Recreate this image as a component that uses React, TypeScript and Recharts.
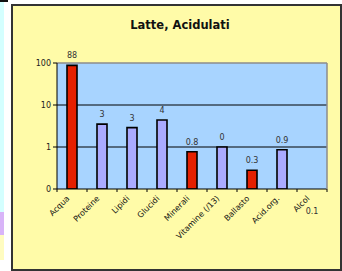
import React from "react";
import {
    BarChart,
    Bar,
    XAxis,
    YAxis,
    CartesianGrid,
    ReferenceLine,
    Cell,
    LabelList,
} from "recharts";

const categories = [
    "Acqua",
    "Proteine",
    "Lipidi",
    "Glucidi",
    "Minerali",
    "Vitamine (/13)",
    "Ballasto",
    "Acid.org.",
    "Alcol",
];
const amounts = [88, 3.5, 2.9, 4.4, 0.77, 1.0, 0.28, 0.86, 0.1];
const valueLabels = ["88", "3", "3", "4", "0.8", "0", "0.3", "0.9", "0.1"];
const highlighted = [true, false, false, false, true, false, true, false, false];
const yTicks = [0.1, 1, 10, 100];
const Y_MIN = 0.1;

const data = categories.map((name, i) => ({
    name,
    amount: amounts[i],
    label: valueLabels[i],
}));

const FONT = "'DejaVu Sans', Verdana, sans-serif";
const HALF_BAND = 15;

function CategoryTick(props: any) {
    const { x, y, payload, index } = props;
    const tx = x - 2;
    const ty = y + 10;
    // bars at the bottom of the log axis have no height, so their label goes under the axis
    const flat = amounts[index] <= Y_MIN;
    return (
        <g>
            <line x1={x - HALF_BAND} y1={y} x2={x - HALF_BAND} y2={y + 3} stroke="#000" />
            {index === categories.length - 1 && (
                <line x1={x + HALF_BAND} y1={y} x2={x + HALF_BAND} y2={y + 3} stroke="#000" />
            )}
            <text
                x={tx}
                y={ty}
                transform={`rotate(-45, ${tx}, ${ty})`}
                textAnchor="end"
                fontSize={8}
                fontFamily={FONT}
                fill="#111"
            >
                {payload.value}
            </text>
            {flat && (
                <text x={x} y={y + 25} textAnchor="middle" fontSize={8} fontFamily={FONT} fill="#333">
                    {valueLabels[index]}
                </text>
            )}
        </g>
    );
}

function ValueLabel(props: any) {
    const { x, y, width, height, value } = props;
    if (!height || height <= 0.5) return null;
    return (
        <text x={x + width / 2} y={y - 7} textAnchor="middle" fontSize={8} fontFamily={FONT} fill="#333">
            {value}
        </text>
    );
}

export default function App() {
    return (
        <div style={{ position: "absolute", left: 0, top: 0, width: 342, height: 271, background: "#fff", fontFamily: FONT }}>
            <div style={{ position: "absolute", left: 0, top: 0, width: 8, height: 2, background: "#111" }} />
            <div style={{ position: "absolute", left: 0, top: 2, width: 4, height: 210, background: "#D4FFFF" }} />
            <div style={{ position: "absolute", left: 0, top: 212, width: 4, height: 23, background: "#D8B4F8" }} />
            <div style={{ position: "absolute", left: 0, top: 235, width: 4, height: 25, background: "#FFFCC0" }} />
            <div
                style={{
                    position: "absolute",
                    left: 11,
                    top: 4,
                    width: 327,
                    height: 263,
                    background: "#FFFBA8",
                    border: "2px solid #333",
                }}
            />
            <div
                style={{
                    position: "absolute",
                    left: 80,
                    top: 18,
                    width: 200,
                    textAlign: "center",
                    fontSize: 11.5,
                    fontWeight: "bold",
                    color: "#111",
                    lineHeight: "15px",
                }}
            >
                Latte, Acidulati
            </div>
            <div style={{ position: "absolute", left: 0, top: 0 }}>
                <BarChart
                    width={342}
                    height={271}
                    data={data}
                    margin={{ top: 63, right: 13, left: 17, bottom: 22 }}
                    barSize={10}
                >
                    <CartesianGrid
                        vertical={false}
                        horizontalValues={[1, 10]}
                        stroke="#000"
                        fill="#A8D4FF"
                        fillOpacity={1}
                    />
                    <ReferenceLine y={100} stroke="#8c8c8c" strokeWidth={1.5} />
                    <XAxis
                        dataKey="name"
                        interval={0}
                        height={60}
                        tickSize={0}
                        tickMargin={0}
                        tickLine={false}
                        axisLine={{ stroke: "#000" }}
                        tick={<CategoryTick />}
                    />
                    <YAxis
                        scale="log"
                        domain={[Y_MIN, 100]}
                        ticks={yTicks}
                        allowDataOverflow
                        width={40}
                        tickSize={4}
                        tickLine={{ stroke: "#000" }}
                        axisLine={{ stroke: "#000" }}
                        tick={{ fontSize: 8, fill: "#222", fontFamily: FONT }}
                        tickFormatter={(v: number) => (v < 1 ? "0" : String(v))}
                    />
                    <YAxis
                        yAxisId="right"
                        orientation="right"
                        width={2}
                        tick={false}
                        tickLine={false}
                        axisLine={{ stroke: "#8c8c8c", strokeWidth: 1.5 }}
                    />
                    <Bar dataKey="amount" stroke="#000" strokeWidth={1.6} isAnimationActive={false}>
                        {data.map((d, i) => (
                            <Cell key={d.name} fill={highlighted[i] ? "#E52000" : "#AAAAFF"} />
                        ))}
                        <LabelList dataKey="label" content={<ValueLabel />} />
                    </Bar>
                </BarChart>
            </div>
        </div>
    );
}
